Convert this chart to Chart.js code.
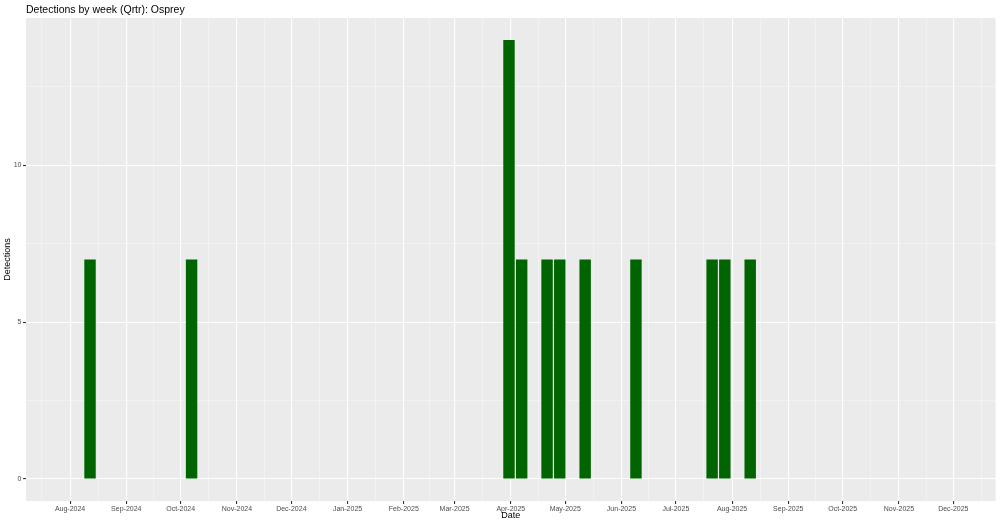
<!DOCTYPE html>
<html>
<head>
<meta charset="utf-8">
<script src="https://cdn.jsdelivr.net/npm/chart.js@4.4.1/dist/chart.umd.min.js"></script>
<style>
  body { margin: 0; background: #ffffff; }
</style>
</head>
<body>
<canvas id="myChart" width="1000" height="526"></canvas>
<script>
// weekly detections (week starting Monday)
const weekStarts = [
  "2024-08-12", "2024-10-07", "2025-03-31", "2025-04-07", "2025-04-21", "2025-04-28",
  "2025-05-12", "2025-06-09", "2025-07-21", "2025-07-28", "2025-08-11",
];
const detections = [7, 7, 14, 7, 7, 7, 7, 7, 7, 7, 7];

// axis limits (before ggplot-style 5% expansion) and breaks
const dateLimits = ["2024-08-01", "2025-11-30"];
const yLimits = [0, 14];
const yBreaks = [0, 5, 10];
const monthLabels = ["Jan", "Feb", "Mar", "Apr", "May", "Jun", "Jul", "Aug", "Sep", "Oct", "Nov", "Dec"];

const DAY = 86400000;
const toMs = (s) => Date.parse(s + "T00:00:00Z");

const xLo = toMs(dateLimits[0]);
const xHi = toMs(dateLimits[1]);
const xPad = (xHi - xLo) * 0.05;
const yPad = (yLimits[1] - yLimits[0]) * 0.05;

// month starts as major, midpoints as minor
function monthTicks(scale) {
  const out = [];
  let y = 2024, m = 5;
  let prev = null;
  while (true) {
    const t = Date.UTC(y, m, 1);
    if (prev !== null) {
      const mid = (prev + t) / 2;
      if (mid >= scale.min && mid <= scale.max) out.push({ value: mid, major: false });
    }
    if (t > scale.max) break;
    if (t >= scale.min) out.push({ value: t, major: true });
    prev = t;
    m++;
    if (m > 11) { m = 0; y++; }
  }
  scale.ticks = out;
}

function valueTicks(scale) {
  const out = [];
  for (let i = 0; i < yBreaks.length; i++) {
    out.push({ value: yBreaks[i], major: true });
    const next = i + 1 < yBreaks.length ? yBreaks[i + 1] : yBreaks[i] + (yBreaks[1] - yBreaks[0]);
    const mid = (yBreaks[i] + next) / 2;
    if (mid <= scale.max) out.push({ value: mid, major: false });
  }
  scale.ticks = out;
}

const isMajor = (c) => c.tick && c.tick.major;

const panelBg = {
  id: "panelBg",
  beforeDraw(chart) {
    const { ctx, chartArea: a } = chart;
    ctx.save();
    ctx.fillStyle = "#EBEBEB";
    ctx.fillRect(a.left, a.top, a.right - a.left, a.bottom - a.top);
    ctx.restore();
  },
};

const gridOpts = {
  color: (c) => (isMajor(c) ? "#FFFFFF" : "#F6F6F6"),
  lineWidth: (c) => (isMajor(c) ? 1.1 : 0.6),
  tickColor: (c) => (isMajor(c) ? "#333333" : "rgba(0,0,0,0)"),
  tickLength: 3,
  offset: false,
};

const area = document.querySelector("#myChart");

const myChart = new Chart(area, {
  type: "bar",
  data: {
    datasets: [
      {
        data: weekStarts.map((d, i) => ({ x: toMs(d), y: detections[i] })),
        backgroundColor: "#006400",
        borderWidth: 0,
        categoryPercentage: 1,
        barPercentage: 0.9,
      },
    ],
  },
  options: {
    responsive: false,
    animation: false,
    devicePixelRatio: 1,
    layout: { padding: { left: 0, right: 4.4, top: 0, bottom: 0 } },
    scales: {
      x: {
        type: "linear",
        offset: false,
        min: xLo - xPad,
        max: xHi + xPad,
        afterBuildTicks: monthTicks,
        afterFit(scale) { scale.height = 25; },
        grid: gridOpts,
        border: { display: false },
        ticks: {
          autoSkip: false,
          maxRotation: 0,
          padding: 1,
          color: "#4D4D4D",
          font: { family: "'Liberation Sans', Arial, sans-serif", size: 7 },
          callback: (v, i, ticks) => {
            if (!ticks[i].major) return "";
            const d = new Date(v);
            return monthLabels[d.getUTCMonth()] + "-" + d.getUTCFullYear();
          },
        },
        title: {
          display: true,
          text: "Date",
          color: "#000000",
          font: { family: "'Liberation Sans', Arial, sans-serif", size: 9 },
          padding: { top: 0, bottom: 4.6 },
        },
      },
      y: {
        min: yLimits[0] - yPad,
        max: yLimits[1] + yPad,
        afterBuildTicks: valueTicks,
        afterFit(scale) { scale.width = 26; },
        grid: gridOpts,
        border: { display: false },
        ticks: {
          autoSkip: false,
          padding: 1.5,
          color: "#4D4D4D",
          font: { family: "'Liberation Sans', Arial, sans-serif", size: 7 },
          callback: (v, i, ticks) => (ticks[i].major ? String(v) : ""),
        },
        title: {
          display: true,
          text: "Detections",
          color: "#000000",
          font: { family: "'Liberation Sans', Arial, sans-serif", size: 9 },
          padding: { top: 2.6, bottom: 0 },
        },
      },
    },
    plugins: {
      legend: { display: false },
      tooltip: { enabled: false },
      title: {
        display: true,
        text: "Detections by week (Qrtr): Osprey",
        align: "start",
        fullSize: false,
        color: "#000000",
        font: { family: "'Liberation Sans', Arial, sans-serif", size: 10.5, weight: "normal" },
        padding: { top: 4, bottom: 1.4 },
      },
    },
  },
  plugins: [panelBg],
});
</script>
</body>
</html>
